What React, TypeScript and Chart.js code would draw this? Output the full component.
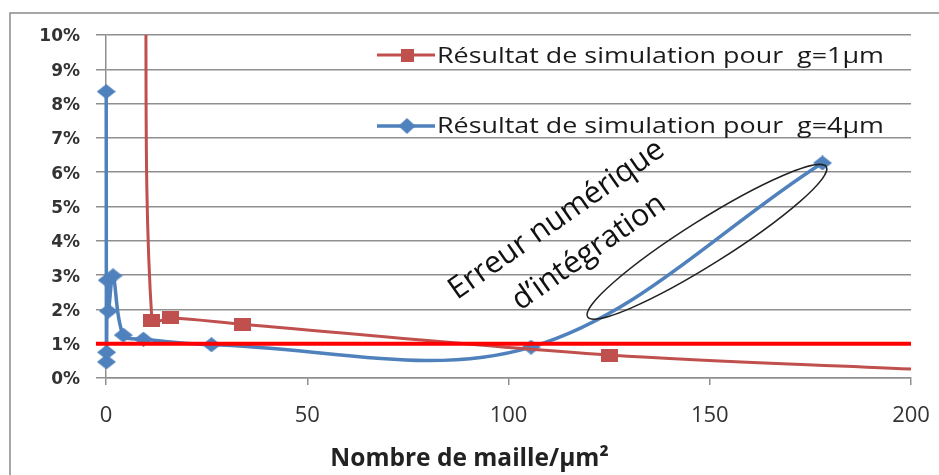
import React, { useEffect, useRef } from 'react';
import { Chart, registerables } from 'chart.js';

Chart.register(...registerables);

// ---- data ----
const g1Label = 'Résultat de simulation pour  g=1µm';
const g1X = [9.7, 11.4, 16.1, 33.8, 125, 200];
const g1Y = [13.5, 1.69, 1.75, 1.57, 0.67, 0.26];
const g1ShowMarker = [1, 1, 1, 1, 1, 0];

const g4Label = 'Résultat de simulation pour  g=4µm';
const g4X = [0.05, 0.1, 0.15, 0.3, 0.6, 1.75, 4.3, 9.3, 26.2, 105.6, 178];
const g4Y = [8.35, 0.47, 0.75, 2.85, 1.95, 2.98, 1.25, 1.13, 0.97, 0.9, 6.27];

const thresholdX = [-2.5, 200];
const thresholdY = [1, 1];

const xTicks = [0, 50, 100, 150, 200];
const yTicks = [0, 1, 2, 3, 4, 5, 6, 7, 8, 9, 10];
const xTitle = 'Nombre de maille/µm²';
const annotationLines = ['Erreur numérique', 'd’intégration'];

// ---- styles ----
const RED = 'rgb(192,80,77)';
const BLUE = 'rgb(79,129,189)';
const GRID = '#8f8f8f';

function rectMarker(w: number, h: number, color: string) {
  const c = document.createElement('canvas');
  c.width = w;
  c.height = h;
  const x = c.getContext('2d')!;
  x.fillStyle = color;
  x.fillRect(0, 0, w, h);
  return c;
}
function diamondMarker(w: number, h: number, color: string) {
  const c = document.createElement('canvas');
  c.width = w;
  c.height = h;
  const x = c.getContext('2d')!;
  x.fillStyle = color;
  x.beginPath();
  x.moveTo(w / 2, 0);
  x.lineTo(w, h / 2);
  x.lineTo(w / 2, h);
  x.lineTo(0, h / 2);
  x.closePath();
  x.fill();
  return c;
}

export default function App() {
  const ref = useRef<HTMLCanvasElement | null>(null);

  useEffect(() => {
    if (!ref.current) return;
    const redMarker = rectMarker(17, 13, RED);
    const blueMarker = diamondMarker(19, 15, BLUE);
    const redLegendMarker = rectMarker(13, 13, RED);
    const blueLegendMarker = diamondMarker(17, 16, BLUE);

    const framePlugin = {
      id: 'frame',
      beforeDraw(chart: any) {
        const { ctx, width, height } = chart;
        ctx.save();
        ctx.fillStyle = '#fff';
        ctx.fillRect(0, 0, width, height);
        ctx.strokeStyle = '#8a8a8a';
        ctx.lineWidth = 1.5;
        ctx.strokeRect(10, 13, width + 20, height + 20);
        ctx.restore();
      },
      afterDraw(chart: any) {
        const { ctx, width } = chart;
        ctx.save();
        ctx.fillStyle = '#222';
        ctx.font = 'bold 24.5px "Open Sans"';
        ctx.textAlign = 'center';
        ctx.textBaseline = 'alphabetic';
        ctx.fillText(xTitle, width / 2, 466);
        ctx.restore();
      },
    };

    const legendPlugin = {
      id: 'insideLegend',
      afterDatasetsDraw(chart: any) {
        const { ctx } = chart;
        const items = [
          { ds: chart.data.datasets[1], marker: redLegendMarker, y: 55, base: 63, lw: 3 },
          { ds: chart.data.datasets[2], marker: blueLegendMarker, y: 126, base: 133, lw: 3.5 },
        ];
        items.forEach(({ ds, marker, y, base, lw }) => {
          ctx.save();
          ctx.strokeStyle = ds.borderColor;
          ctx.lineWidth = lw;
          ctx.beginPath();
          ctx.moveTo(377, y);
          ctx.lineTo(435, y);
          ctx.stroke();
          ctx.drawImage(marker, 407 - marker.width / 2, y - marker.height / 2);
          ctx.fillStyle = '#1a1a1a';
          ctx.font = '21px "Open Sans"';
          ctx.textBaseline = 'alphabetic';
          ctx.translate(437, base);
          ctx.scale(1.28, 1);
          ctx.fillText(ds.label, 0, 0);
          ctx.restore();
        });
      },
    };

    const annotationPlugin = {
      id: 'annotation',
      afterDatasetsDraw(chart: any) {
        const { ctx } = chart;
        const xs = chart.scales.x;
        const ys = chart.scales.y;
        ctx.save();
        ctx.strokeStyle = '#222';
        ctx.lineWidth = 1.5;
        ctx.beginPath();
        ctx.ellipse(
          xs.getPixelForValue(149.3),
          ys.getPixelForValue(3.97),
          141,
          22,
          (-32.2 * Math.PI) / 180,
          0,
          Math.PI * 2
        );
        ctx.stroke();
        ctx.fillStyle = '#111';
        ctx.font = '30.5px "Open Sans"';
        ctx.textBaseline = 'alphabetic';
        const anchors = [
          [87.2, 2.27],
          [102.9, 1.95],
        ];
        annotationLines.forEach((t, i) => {
          ctx.save();
          ctx.translate(xs.getPixelForValue(anchors[i][0]), ys.getPixelForValue(anchors[i][1]));
          ctx.rotate((-35 * Math.PI) / 180);
          ctx.fillText(t, 0, 0);
          ctx.restore();
        });
        ctx.restore();
      },
    };

    const clipBox = { left: 14, top: 0, right: 14, bottom: 14 };

    const chart = new Chart(ref.current, {
      type: 'line',
      data: {
        datasets: [
          {
            label: 'Seuil 1%',
            data: thresholdX.map((x, i) => ({ x, y: thresholdY[i] })),
            borderColor: 'rgb(255,0,0)',
            borderWidth: 4,
            pointRadius: 0,
            tension: 0,
            clip: clipBox,
          },
          {
            label: g1Label,
            data: g1X.map((x, i) => ({ x, y: g1Y[i] })),
            borderColor: RED,
            backgroundColor: RED,
            borderWidth: 3,
            pointStyle: redMarker,
            pointRadius: g1ShowMarker.map((m) => (m ? 6 : 0)),
            tension: 0.35,
            clip: clipBox,
          },
          {
            label: g4Label,
            data: g4X.map((x, i) => ({ x, y: g4Y[i] })),
            borderColor: BLUE,
            backgroundColor: BLUE,
            borderWidth: 3.5,
            pointStyle: blueMarker,
            pointRadius: 6,
            tension: 0.35,
            clip: clipBox,
          },
        ],
      } as any,
      options: {
        animation: false,
        responsive: false,
        layout: { padding: { left: 0, right: 28, top: 35, bottom: 0 } },
        plugins: { legend: { display: false }, tooltip: { enabled: false } },
        scales: {
          x: {
            type: 'linear',
            min: 0,
            max: 200,
            afterBuildTicks: (s: any) => {
              s.ticks = xTicks.map((v) => ({ value: v }));
            },
            ticks: {
              font: { family: 'Open Sans', size: 22 },
              color: '#333',
              padding: 18,
              maxRotation: 0,
              autoSkip: false,
            },
            grid: {
              display: true,
              drawOnChartArea: false,
              drawTicks: true,
              tickLength: 7,
              color: GRID,
              lineWidth: 1.5,
            },
            border: { display: true, color: GRID, width: 1.5 },
            title: { display: false },
            afterFit: (s: any) => {
              s.height = 97;
              s.paddingLeft = 0;
              s.paddingRight = 0;
            },
          },
          y: {
            type: 'linear',
            min: 0,
            max: 10,
            afterBuildTicks: (s: any) => {
              s.ticks = yTicks.map((v) => ({ value: v }));
            },
            ticks: {
              callback: (v: any) => v + '%',
              font: { family: 'DejaVu Sans', size: 17, weight: 'bold' },
              color: '#333',
              padding: 16,
              labelOffset: 2,
            },
            grid: { color: GRID, lineWidth: 1.5, tickLength: 10 },
            border: { display: true, color: GRID, width: 1.5 },
            afterFit: (s: any) => {
              s.width = 106;
              s.paddingTop = 0;
              s.paddingBottom = 0;
            },
          },
        },
      } as any,
      plugins: [framePlugin, legendPlugin, annotationPlugin],
    });
    return () => chart.destroy();
  }, []);

  return (
    <div style={{ position: 'fixed', left: 0, top: 0, width: 939, height: 475, background: '#fff' }}>
      <canvas ref={ref} width={939} height={475} style={{ display: 'block', width: 939, height: 475 }} />
    </div>
  );
}
